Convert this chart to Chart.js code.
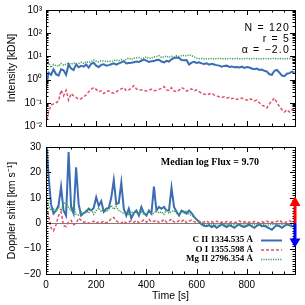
<!DOCTYPE html>
<html><head><meta charset="utf-8">
<script src="https://cdn.jsdelivr.net/npm/chart.js@4.4.1/dist/chart.umd.min.js"></script>
<style>
html,body{margin:0;padding:0;background:#fff;width:305px;height:305px;overflow:hidden}
canvas{position:absolute;left:0}
#c1{top:0;width:305px;height:136px}
#c2{top:136px;width:305px;height:169px}
</style></head><body>
<canvas id="c1" width="305" height="136"></canvas>
<canvas id="c2" width="305" height="169"></canvas>
<script>
// ---------------- data ----------------
const times = [0,10,20,30,40,50,60,70,80,90,100,110,120,130,140,150,160,170,180,190,
  200,210,220,230,240,250,260,270,280,290,300,310,320,330,340,350,360,370,380,390,
  400,410,420,430,440,450,460,470,480,490,500,510,520,530,540,550,560,570,580,590,
  600,610,620,630,640,650,660,670,680,690,700,710,720,730,740,750,760,770,780,790,
  800,810,820,830,840,850,860,870,880,890,900,910,920,930,940,950,960,970,980,990];

const intensityCII = [0.4,2.0,1.6,2.8,1.7,1.5,2.8,2.5,1.6,4.5,
  3.0,2.6,4.5,3.4,3.9,3.6,4.5,3.3,4.8,5.3,
  4.0,3.5,4.3,4.6,4.0,4.2,4.6,5.0,4.4,5.0,
  5.5,6.2,5.0,5.2,5.3,5.6,6.0,5.8,6.5,7.3,
  6.6,5.8,6.2,6.3,7.0,7.2,6.0,5.5,6.4,6.0,
  7.5,8.5,9.0,8.6,7.0,6.8,7.0,4.5,5.4,5.8,
  5.2,5.6,5.0,4.7,5.0,4.4,4.8,4.5,4.2,4.0,
  3.6,3.9,4.0,3.5,3.7,3.4,3.5,3.3,3.6,3.2,
  3.5,3.3,3.0,2.8,3.0,2.6,2.7,2.4,2.2,1.7,
  1.6,2.4,2.6,2.0,1.5,1.4,1.8,1.9,2.2,2.0];

const intensityOI = [0.012,0.04,0.08,0.09,0.1,0.12,0.35,0.2,0.35,0.13,
  0.25,0.2,0.17,0.14,0.15,0.18,0.22,0.3,0.38,0.45,
  0.38,0.3,0.33,0.25,0.3,0.33,0.28,0.26,0.3,0.35,
  0.4,0.45,0.33,0.36,0.42,0.55,0.4,0.35,0.36,0.33,
  0.32,0.36,0.38,0.33,0.35,0.38,0.42,0.5,0.36,0.34,
  0.45,0.33,0.3,0.35,0.45,0.4,0.32,0.36,0.4,0.33,
  0.36,0.3,0.26,0.24,0.22,0.24,0.26,0.22,0.2,0.18,
  0.17,0.18,0.16,0.17,0.15,0.16,0.14,0.15,0.16,0.14,
  0.13,0.15,0.14,0.12,0.13,0.1,0.08,0.07,0.06,0.09,
  0.12,0.16,0.1,0.07,0.05,0.04,0.05,0.04,0.05,0.06];

const intensityMgII = [4.5,5.5,3.3,4.5,4.0,3.8,5.0,4.2,4.6,5.0,
  4.6,5.2,4.8,5.0,5.6,5.0,6.0,5.5,6.0,7.0,
  6.2,5.8,6.5,6.4,6.0,6.2,6.0,6.6,7.0,6.5,
  7.2,6.5,7.5,8.5,7.4,8.3,8.5,9.0,8.0,8.5,
  9.5,8.0,8.5,9.5,10.0,10.8,9.0,9.5,10.5,9.0,
  10.0,9.3,10.5,10.0,10.8,11.0,10.5,11.5,11.0,9.5,
  8.5,8.0,8.2,7.8,8.0,7.9,8.1,7.8,8.0,8.2,
  7.9,8.0,7.8,8.1,8.0,7.9,8.2,8.0,7.8,8.0,
  8.1,7.9,8.0,8.2,7.9,8.0,7.8,8.1,8.0,7.9,
  8.0,8.2,7.9,8.0,8.1,7.8,8.0,8.2,8.0,8.1];

const dopplerCII = [35,19,7.5,3.8,5,7,14.4,5,3,28,
  6.4,3.8,22,7.5,3,4,4.5,5.7,5,6,
  10.2,6.8,8.7,4.5,5.7,6,10,17,7.5,8,
  16,5.7,3,5.7,1.9,4,5,3,6.4,4,
  3,5,3.8,14.4,5,6.4,5.7,6.4,5,5,
  14,6.4,4.5,3,5,4.5,3.8,5,4,2.5,
  1.5,0.5,-0.5,-1,-1.2,-0.8,-1.5,-1,-1.8,-1.2,
  -0.5,-1,-1.5,-0.8,-1.2,-1.8,-1,-0.5,-1.2,-1.5,
  -1,-0.6,-1.3,-1.8,-1,-0.5,-1.2,-1,-1.5,-2,
  -2.6,-1.5,-0.8,-1.2,-1.8,-1,-0.5,-0.8,-1.2,-1];

const dopplerOI = [8.3,3,-1.9,-3,-0.6,3,4.5,-1,-1.3,0.5,
  1.1,-0.6,0,2,1.1,0.4,0.6,0,0.2,0.8,
  0,0.5,0.3,0.8,0.1,0.6,1.9,2.3,1,0.2,
  0,0.8,0,0.5,0.9,0.3,1,0.2,0.6,1.3,
  0.4,1.5,0.5,0.8,1.2,0.3,0.6,1.5,0.4,0.9,
  1.6,0.5,0.3,1,0.6,1.4,0.2,0.8,1.2,0.6,
  0.3,0.8,0.2,0.5,0.9,0.1,0.6,0.3,0.8,0.2,
  0.5,0.1,0.7,0.3,0.6,0.2,0.5,0.9,0.3,0.6,
  0.1,0.5,0.2,0.7,0.4,0.1,0.6,0.3,0.8,0.2,
  0.5,0.3,0.7,1.2,0.4,0.2,0.6,1.0,0.3,0.5];

const dopplerMgII = [11,6.8,5,5.7,4.5,6.4,5,7.5,8.3,6,
  5,7,3.5,3.2,4.5,3.5,5,4,5.5,3.5,
  5,6,4.5,5.5,4.5,5.5,7,5.5,6.5,5,
  4.5,3.8,4.5,3.5,4.5,3.8,4.2,3.5,4.5,3.5,
  4,4.5,3.5,4,5,4,4.5,3.5,5.5,4,
  4.5,5,4,3.5,4.5,4,5,3.5,3,2.5,
  1.5,0.8,0,-0.5,-0.8,-0.5,-0.7,-0.4,-0.9,-0.6,
  -0.3,-0.7,-0.5,-0.9,-0.4,-0.6,-0.8,-0.3,-0.6,-0.9,
  -0.5,-0.4,-0.7,-0.6,-0.3,-0.8,-0.5,-0.6,-0.9,-0.7,
  -0.4,-0.6,-0.3,-0.7,-0.5,-0.8,-0.4,-0.6,-0.5,-0.7];

const timeTicks = [0,200,400,600,800];
const intensityTicks = [0.01,0.1,1,10,100,1000];
const intensityTickLabels = ['10\u207B\u00B2','10\u207B\u00B9','10\u2070','10\u00B9','10\u00B2','10\u00B3'];
const dopplerTicks = [-20,-10,0,10,20,30];
const dopplerTickLabels = ['\u221220','\u221210','0','10','20','30'];
const legendLabels = ['C II 1334.535 \u00C5','O I 1355.598 \u00C5','Mg II 2796.354 \u00C5'];
const infoLabels = ['N = 120','r = 5','\u03B1 = \u22122.0'];
const medianLabel = 'Median log Flux = 9.70';

// ---------------- styles ----------------
const colCII = '#3a6db3', colOI = '#e0506a', colMgII = '#3f9c55';
Chart.defaults.font.family = "'Liberation Sans', Arial, sans-serif";
Chart.defaults.font.size = 10;
Chart.defaults.color = '#000';

function pts(ys){ return times.map((t,i)=>({x:t,y:ys[i]})); }
function seriesSets(a,b,c){
  return [
    {label:legendLabels[0],data:pts(a),borderColor:colCII,borderWidth:2,pointRadius:0,order:2},
    {label:legendLabels[1],data:pts(b),borderColor:colOI,borderWidth:1.5,borderDash:[3,2],pointRadius:0,order:1},
    {label:legendLabels[2],data:pts(c),borderColor:colMgII,borderWidth:1.5,borderDash:[1.2,1.2],pointRadius:0,order:0}
  ];
}

function tickLine(ctx, area, scale, vals, len, horiz){
  ctx.beginPath();
  vals.forEach(v=>{
    const p = scale.getPixelForValue(v);
    if (horiz){
      if (p < area.left-0.5 || p > area.right+0.5) return;
      const q = Math.round(p)+0.5;
      ctx.moveTo(q, area.bottom); ctx.lineTo(q, area.bottom-len);
      ctx.moveTo(q, area.top); ctx.lineTo(q, area.top+len);
    } else {
      if (p < area.top-0.5 || p > area.bottom+0.5) return;
      const q = Math.round(p)+0.5;
      ctx.moveTo(area.left, q); ctx.lineTo(area.left+len, q);
      ctx.moveTo(area.right, q); ctx.lineTo(area.right-len, q);
    }
  });
  ctx.stroke();
}
function xMinorVals(max){ const a=[]; for(let v=0; v<=max; v+=50) a.push(v); return a; }
function frame(ctx, area){
  ctx.save(); ctx.strokeStyle='#000'; ctx.lineWidth=1;
  ctx.strokeRect(Math.round(area.left)+0.5, Math.round(area.top)+0.5,
                 Math.round(area.right-area.left), Math.round(area.bottom-area.top));
  ctx.restore();
}

const yWidth = s => { s.width = 46; };

// ---------------- top chart ----------------
const topPlugin = {
  id:'topDeco',
  afterDatasetsDraw(chart){
    const {ctx, chartArea:a, scales} = chart;
    frame(ctx,a);
    ctx.save(); ctx.strokeStyle='#000'; ctx.lineWidth=1;
    tickLine(ctx,a,scales.x,timeTicks,5,true);
    tickLine(ctx,a,scales.x,xMinorVals(1000),2.5,true);
    tickLine(ctx,a,scales.y,intensityTicks,5,false);
    const minor=[]; for(let e=-2;e<3;e++) for(let k=2;k<10;k++) minor.push(k*Math.pow(10,e));
    tickLine(ctx,a,scales.y,minor,2.5,false);
    ctx.fillStyle='#000'; ctx.font="10.5px 'Liberation Sans', Arial, sans-serif";
    ctx.textAlign='right'; ctx.textBaseline='middle';
    ctx.letterSpacing='1.2px';
    const ys=[28,39.5,50.5];
    infoLabels.forEach((t,i)=>ctx.fillText(t, 290, ys[i]));
    ctx.restore();
  }
};

new Chart(document.getElementById('c1'), {
  type:'line',
  data:{datasets:seriesSets(intensityCII,intensityOI,intensityMgII)},
  options:{
    responsive:false, animation:false, events:[],
    layout:{padding:{left:0,right:10,top:10,bottom:5}},
    plugins:{legend:{display:false},tooltip:{enabled:false}},
    scales:{
      x:{type:'linear',min:0,max:992,display:false},
      y:{type:'logarithmic',min:0.01,max:1000,
        afterFit:yWidth,
        afterBuildTicks:s=>{ s.ticks = intensityTicks.map(v=>({value:v})); },
        grid:{display:false,drawTicks:false},
        border:{display:false},
        ticks:{autoSkip:false,padding:4,font:{size:10},callback:(v,i)=>intensityTickLabels[i]},
        title:{display:true,text:'Intensity [kDN]',font:{size:10.5},padding:{top:6,bottom:0}}
      }
    }
  },
  plugins:[topPlugin]
});

// ---------------- bottom chart ----------------
const botPlugin = {
  id:'botDeco',
  beforeDatasetsDraw(chart){
    const {ctx, chartArea:a, scales} = chart;
    const y0 = Math.round(scales.y.getPixelForValue(0))+0.5;
    ctx.save(); ctx.strokeStyle='#7f7f7f'; ctx.lineWidth=1;
    ctx.beginPath(); ctx.moveTo(a.left,y0); ctx.lineTo(a.right,y0); ctx.stroke();
    ctx.restore();
  },
  afterDatasetsDraw(chart){
    const {ctx, chartArea:a, scales} = chart;
    frame(ctx,a);
    ctx.save(); ctx.strokeStyle='#000'; ctx.lineWidth=1;
    tickLine(ctx,a,scales.x,timeTicks,5,true);
    tickLine(ctx,a,scales.x,xMinorVals(1000),2.5,true);
    tickLine(ctx,a,scales.y,dopplerTicks,5,false);
    const minor=[]; for(let v=-20; v<=30; v++) minor.push(v);
    tickLine(ctx,a,scales.y,minor,2.5,false);
    ctx.restore();

    // median flux text
    ctx.save(); ctx.fillStyle='#000';
    ctx.font="bold 10px 'Liberation Serif', 'DejaVu Serif', serif";
    ctx.textAlign='right'; ctx.textBaseline='middle';
    ctx.fillText(medianLabel, 259, 26.5);

    // legend
    ctx.font="bold 9px 'Liberation Serif', 'DejaVu Serif', serif";
    const ly=[104,113.5,123];
    chart.data.datasets.forEach((ds,i)=>{
      ctx.fillStyle='#000';
      ctx.fillText(legendLabels[i], 253, ly[i]);
      ctx.save();
      ctx.strokeStyle=ds.borderColor; ctx.lineWidth=ds.borderWidth;
      ctx.setLineDash(ds.borderDash||[]);
      ctx.beginPath(); ctx.moveTo(261,ly[i]+0.5); ctx.lineTo(282,ly[i]+0.5); ctx.stroke();
      ctx.restore();
    });
    ctx.restore();

    // red/blue arrows on right axis
    const yS = scales.y, xr = a.right;
    const arrow = (col, base, head, tip) => {
      const p0=yS.getPixelForValue(base), p1=yS.getPixelForValue(head), p2=yS.getPixelForValue(tip);
      ctx.save(); ctx.fillStyle=col;
      ctx.fillRect(xr-1.5, Math.min(p0,p1), 3, Math.abs(p1-p0));
      ctx.beginPath(); ctx.moveTo(xr-5.5,p1); ctx.lineTo(xr+5.5,p1); ctx.lineTo(xr,p2); ctx.closePath(); ctx.fill();
      ctx.restore();
    };
    arrow('#ff0000', 0, 6.8, 10.6);
    arrow('#0000ff', 0, -6, -9.6);
  }
};

new Chart(document.getElementById('c2'), {
  type:'line',
  data:{datasets:seriesSets(dopplerCII,dopplerOI,dopplerMgII)},
  options:{
    responsive:false, animation:false, events:[],
    layout:{padding:{left:0,right:10,top:2,bottom:0}},
    plugins:{legend:{display:false},tooltip:{enabled:false}},
    scales:{
      x:{type:'linear',min:0,max:992,
        afterFit:s=>{ s.height = 31; },
        afterBuildTicks:s=>{ s.ticks = timeTicks.map(v=>({value:v})); },
        grid:{display:false,drawTicks:false},
        border:{display:false},
        ticks:{autoSkip:false,maxRotation:0,padding:5,font:{size:10},callback:(v,i)=>String(timeTicks[i])},
        title:{display:true,text:'Time [s]',font:{size:10.5},padding:{top:0,bottom:3}}
      },
      y:{type:'linear',min:-20,max:30,
        afterFit:yWidth,
        afterBuildTicks:s=>{ s.ticks = dopplerTicks.map(v=>({value:v})); },
        grid:{display:false,drawTicks:false},
        border:{display:false},
        ticks:{autoSkip:false,padding:5,font:{size:10},callback:(v,i)=>dopplerTickLabels[i]},
        title:{display:true,text:'Doppler shift [km s\u207B\u00B9]',font:{size:10.5},padding:{top:6,bottom:0}}
      }
    }
  },
  plugins:[botPlugin]
});
</script>
</body></html>
